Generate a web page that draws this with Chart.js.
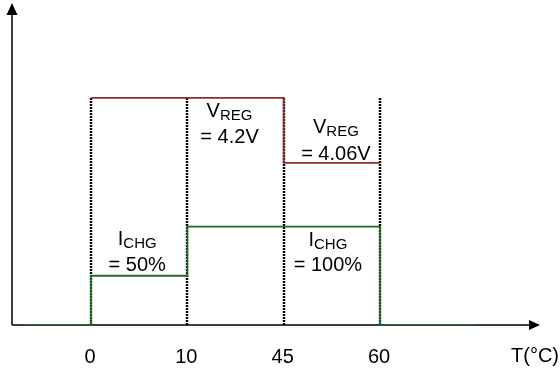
<!DOCTYPE html>
<html>
<head>
<meta charset="utf-8">
<script src="https://cdn.jsdelivr.net/npm/chart.js@4/dist/chart.umd.min.js"></script>
<style>
  html, body { margin: 0; padding: 0; background: #ffffff; }
  canvas { display: block; }
</style>
</head>
<body>
<canvas id="chart" width="560" height="369"></canvas>
<script>
// Temperature boundaries (drawn evenly spaced, schematic)
const tempLabels = ['0', '10', '45', '60'];
const axisTitle = 'T(°C)';

// Regulation voltage per temperature range: 0–10, 10–45, 45–60
const vregValues = [4.2, 4.2, 4.06];
// Charge current (% of full) per temperature range: 0–10, 10–45, 45–60
const ichgValues = [50, 100, 100];
// Charge current outside 0–60 °C
const ichgOffValue = 0;
// Extent of the "off" current segments below 0 and above 60 (in boundary index units)
const ichgOffExtent = [-0.685, 4.0];

// Annotation texts: [main, subscript, second line]
const vregNotes = [['V', 'REG', '= 4.2V'], ['V', 'REG', '= 4.06V']];
const ichgNotes = [['I', 'CHG', '= 50%'], ['I', 'CHG', '= 100%']];

const RED = '#8c2e2e';
const GREEN = '#226a26';
const FONT = '"Liberation Sans", Arial, Helvetica, sans-serif';

// Build step polylines: each range contributes its two corner points
function rangePoints(values) {
  const pts = [];
  values.forEach((v, k) => { pts.push({ x: k, y: v }, { x: k + 1, y: v }); });
  return pts;
}
const vregPoints = rangePoints(vregValues);
const ichgPoints = [
  { x: ichgOffExtent[0], y: ichgOffValue }, { x: 0, y: ichgOffValue },
  ...rangePoints(ichgValues),
  { x: ichgValues.length, y: ichgOffValue }, { x: ichgOffExtent[1], y: ichgOffValue }
];

// Dotted boundary lines, axes with arrows, labels and annotations
const schematicPlugin = {
  id: 'schematic',
  beforeDatasetsDraw(chart) {
    const { ctx, chartArea: a, scales } = chart;
    const x = scales.x, yV = scales.yV;
    const topY = Math.round(yV.getPixelForValue(Math.max(...vregValues)));
    ctx.save();
    ctx.strokeStyle = '#000';
    ctx.lineWidth = 2.4;
    ctx.setLineDash([2, 1]);
    tempLabels.forEach((_, i) => {
      const px = Math.round(x.getPixelForValue(i));
      ctx.beginPath();
      ctx.moveTo(px, topY);
      ctx.lineTo(px, a.bottom);
      ctx.stroke();
    });
    ctx.setLineDash([]);

    // axes
    ctx.lineWidth = 1.5;
    ctx.beginPath();
    ctx.moveTo(a.left, a.bottom);
    ctx.lineTo(a.left, a.top + 8);
    ctx.moveTo(a.left, a.bottom);
    ctx.lineTo(a.right - 8, a.bottom);
    ctx.stroke();
    ctx.fillStyle = '#000';
    ctx.beginPath();
    ctx.moveTo(a.left, a.top - 2);
    ctx.lineTo(a.left - 5.5, a.top + 10);
    ctx.lineTo(a.left + 5.5, a.top + 10);
    ctx.closePath();
    ctx.fill();
    ctx.beginPath();
    ctx.moveTo(a.right, a.bottom);
    ctx.lineTo(a.right - 11, a.bottom - 5);
    ctx.lineTo(a.right - 11, a.bottom + 5);
    ctx.closePath();
    ctx.fill();
    ctx.restore();
  },
  afterDatasetsDraw(chart) {
    const { ctx, chartArea: a, scales } = chart;
    const x = scales.x, yV = scales.yV, yI = scales.yI;
    ctx.save();
    ctx.fillStyle = '#000';
    ctx.textBaseline = 'alphabetic';

    // tick labels
    ctx.font = '20px ' + FONT;
    ctx.textAlign = 'center';
    tempLabels.forEach((t, i) => {
      ctx.fillText(t, x.getPixelForValue(i) - 1, a.bottom + 38);
    });
    ctx.textAlign = 'left';
    ctx.fillText(axisTitle, a.right - 29, a.bottom + 37);

    function note(parts, cx, base1, base2) {
      ctx.font = '20px ' + FONT;
      const w1 = ctx.measureText(parts[0]).width;
      ctx.font = '15px ' + FONT;
      const w2 = ctx.measureText(parts[1]).width;
      const left = cx - (w1 + w2) / 2;
      ctx.textAlign = 'left';
      ctx.font = '20px ' + FONT;
      ctx.fillText(parts[0], left, base1);
      ctx.font = '15px ' + FONT;
      ctx.fillText(parts[1], left + w1, base1 + 3);
      ctx.font = '20px ' + FONT;
      ctx.textAlign = 'center';
      ctx.fillText(parts[2], cx, base2);
    }
    const mid = k => (x.getPixelForValue(k) + x.getPixelForValue(k + 1)) / 2;

    // VREG = 4.2V below the line, VREG = 4.06V above it
    const v1 = yV.getPixelForValue(vregValues[1]);
    note(vregNotes[0], mid(1) - 6, v1 + 19, v1 + 45);
    const v2 = yV.getPixelForValue(vregValues[2]);
    note(vregNotes[1], mid(2) + 4, v2 - 30, v2 - 3);
    // ICHG = 50% above the line, ICHG = 100% below it
    const i1 = yI.getPixelForValue(ichgValues[0]);
    note(ichgNotes[0], mid(0) - 2, i1 - 31, i1 - 5);
    const i2 = yI.getPixelForValue(ichgValues[2]);
    note(ichgNotes[1], mid(2) - 4, i2 + 19, i2 + 44);
    ctx.restore();
  }
};

new Chart(document.getElementById('chart'), {
  type: 'line',
  data: {
    datasets: [
      {
        label: 'VREG',
        data: vregPoints,
        yAxisID: 'yV',
        borderColor: RED,
        borderWidth: 1.8,
        pointRadius: 0,
        fill: false,
        tension: 0
      },
      {
        label: 'ICHG',
        data: ichgPoints,
        yAxisID: 'yI',
        borderColor: GREEN,
        borderWidth: 1.8,
        pointRadius: 0,
        fill: false,
        tension: 0
      }
    ]
  },
  options: {
    responsive: false,
    animation: false,
    layout: { padding: { left: 12, right: 20, top: 5, bottom: 44 } },
    plugins: { legend: { display: false }, tooltip: { enabled: false } },
    scales: {
      x: { type: 'linear', min: -0.82, max: 4.66, display: false },
      yV: { type: 'linear', position: 'left', min: 3.711, max: 4.4, display: false },
      yI: { type: 'linear', position: 'right', min: 0, max: 325, display: false }
    }
  },
  plugins: [schematicPlugin]
});
</script>
</body>
</html>
